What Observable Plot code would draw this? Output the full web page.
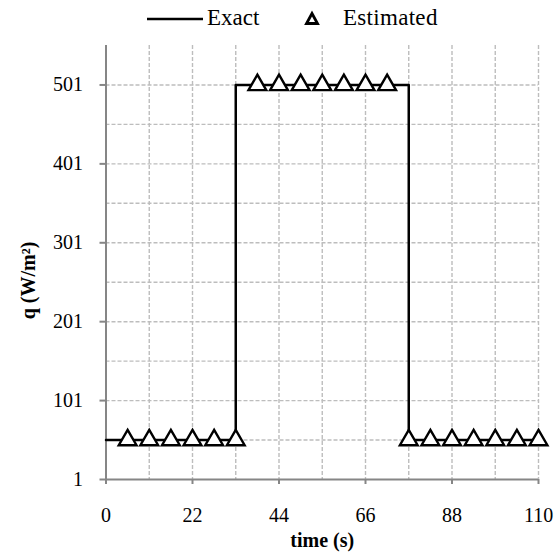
<!DOCTYPE html>
<html><head><meta charset="utf-8">
<script src="https://cdn.jsdelivr.net/npm/d3@7"></script>
<script src="https://cdn.jsdelivr.net/npm/@observablehq/plot@0.6"></script>
<style>
body{margin:0;background:#fff;font-family:"Liberation Serif",Tinos,"Times New Roman","DejaVu Serif",serif;}
#legend{position:relative;height:30px;width:559px;font-size:23px;color:#000;}
#legend .item{position:absolute;top:3px;line-height:30px;}
#legend svg{position:absolute;}
</style></head><body>
<div id="legend">
  <svg style="left:146px;top:0" width="58" height="30"><line x1="1" x2="57" y1="19" y2="19" stroke="#000" stroke-width="2.3"/></svg>
  <span class="item" style="left:207px">Exact</span>
  <svg style="left:302px;top:0" width="20" height="30"><polygon points="10,13.5 4.5,23.5 15.5,23.5" fill="none" stroke="#000" stroke-width="2.8" stroke-linejoin="miter"/></svg>
  <span class="item" style="left:343px;letter-spacing:0.3px">Estimated</span>
</div>
<div id="chart"></div>
<script>
const exactTime = [0, 33, 77, 110];
const exactQ = [51, 501, 51, 51];
const estTime = [5.5, 11, 16.5, 22, 27.5, 33, 38.5, 44, 49.5, 55, 60.5, 66, 71.5, 77, 82.5, 88, 93.5, 99, 104.5, 110];
const estQ = [51, 51, 51, 51, 51, 51, 501, 501, 501, 501, 501, 501, 501, 51, 51, 51, 51, 51, 51, 51];
const xTicks = [0, 22, 44, 66, 88, 110];
const yTicks = [1, 101, 201, 301, 401, 501];
const xGrid = [11, 22, 33, 44, 55, 66, 77, 88, 99, 110];
const yGrid = [51, 101, 151, 201, 251, 301, 351, 401, 451, 501];

const exact = exactTime.map((t, i) => ({t, q: exactQ[i]}));
const est = estTime.map((t, i) => ({t, q: estQ[i]}));

const gridStyle = {stroke: "#bdbdbd", strokeWidth: 1.4, strokeDasharray: "4,2"};
const axisGray = "#868686";
const serif = '"Liberation Serif",Tinos,"Times New Roman","DejaVu Serif",serif';

const plot = Plot.plot({
  width: 559,
  height: 523,
  marginTop: 15,
  marginBottom: 74,
  marginLeft: 105.5,
  marginRight: 21,
  style: {fontFamily: serif, fontSize: "20px", color: "#000", background: "#fff"},
  x: {domain: [0, 110]},
  y: {domain: [1, 551]},
  marks: [
    Plot.ruleX(xGrid, gridStyle),
    Plot.ruleY(yGrid, gridStyle),
    Plot.ruleX([0], {stroke: axisGray, strokeWidth: 2}),
    Plot.ruleY([1], {stroke: axisGray, strokeWidth: 2}),
    Plot.axisY(yTicks, {tickSize: 6, tickPadding: 17, stroke: axisGray, strokeWidth: 2, fill: "#000",
      label: "q (W/m²)", labelAnchor: "center", labelOffset: 85, labelArrow: "none", fontSize: 20}),
    Plot.axisX(xTicks, {tickSize: 5, tickPadding: 23, stroke: axisGray, strokeWidth: 2, fill: "#000",
      label: "time (s)", labelAnchor: "center", labelOffset: 67, labelArrow: "none", fontSize: 20}),
    Plot.line(exact, {x: "t", y: "q", curve: "step-after", stroke: "#000", strokeWidth: 2.5}),
    Plot.dot(est, {x: "t", y: "q", symbol: "triangle", r: 6.6, stroke: "#000", fill: "#fff", strokeWidth: 2.4})
  ]
});
d3.select(plot).selectAll("text").style("font-family", serif);
d3.select(plot).selectAll('g[aria-label="y-axis label"], g[aria-label="x-axis label"]').style("font-weight", "bold");
d3.select(plot).selectAll('g[aria-label="y-axis label"]').each(function() {
  const g = d3.select(this);
  g.attr("transform", (g.attr("transform") || "") + " translate(0,18)");
});
document.getElementById("chart").appendChild(plot);
</script>
</body></html>
